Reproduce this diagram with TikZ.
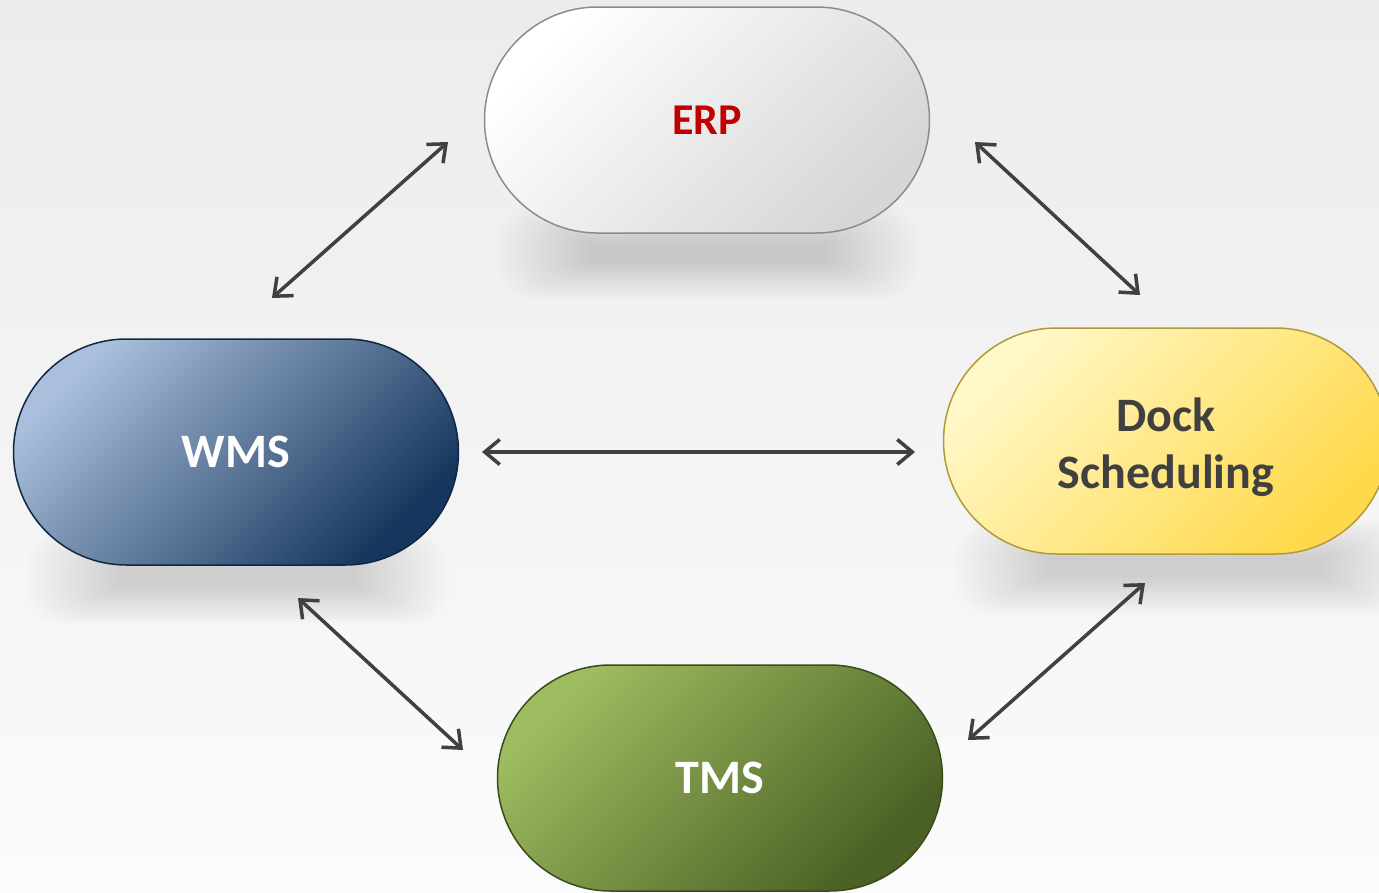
\documentclass[tikz,border=0pt]{standalone}
\usepackage{fontspec}
\setmainfont{Carlito}
\usetikzlibrary{shapes.misc,arrows.meta}
\definecolor{arr}{HTML}{404040}
\definecolor{erpred}{HTML}{C00000}
\definecolor{docktext}{HTML}{404040}
\definecolor{erpA}{HTML}{FFFFFF}
\definecolor{erpM}{HTML}{F0F0F0}
\definecolor{erpB}{HTML}{D6D6D6}
\definecolor{erpE}{HTML}{8C8C8C}
\definecolor{wmsA}{HTML}{A9BFDB}
\definecolor{wmsM}{HTML}{3F618E}
\definecolor{wmsB}{HTML}{17365D}
\definecolor{wmsE}{HTML}{0F2747}
\definecolor{dockA}{HTML}{FFF8C8}
\definecolor{dockM}{HTML}{FFEA85}
\definecolor{dockB}{HTML}{FFD94A}
\definecolor{dockE}{HTML}{B29A3C}
\definecolor{tmsA}{HTML}{9EBC60}
\definecolor{tmsM}{HTML}{6A8836}
\definecolor{tmsB}{HTML}{4A6024}
\definecolor{tmsE}{HTML}{3A4C1B}
\newcommand\softshadow[4]{%
  \foreach \k in {0,...,19}{%
    \pgfmathsetmacro\rc{max(40-2*\k,2)}%
    \fill[black,opacity=0.008,rounded corners=\rc pt]
      ({#1+\k*5},{#2+\k*2}) rectangle ({#3-\k*5},{#4-\k*2});}}
\tikzset{
  pill/.style={rounded rectangle, minimum width=445pt, minimum height=226pt,
    inner sep=0pt, align=center, line width=1.5pt,
    font=\bfseries\fontsize{48}{57}\selectfont},
  diag/.style={shading angle=45},
  link/.style={draw=arr, line width=3.5pt,
    {Straight Barb[length=15pt,width=25pt]}-{Straight Barb[length=15pt,width=25pt]}}
}
\begin{document}
\begin{tikzpicture}[x=1pt,y=-1pt]
\useasboundingbox (0,0) rectangle (1379,892);
\clip (0,0) rectangle (1379,892);
\shade[top color=gray!15, bottom color=gray!3] (0,0) rectangle (1379,892);
% shadows
\softshadow{495}{205}{920}{300}
\softshadow{25}{530}{450}{625}
\softshadow{953}{520}{1415}{615}
% nodes
\node[pill, draw=erpE, top color=erpA, middle color=erpM, bottom color=erpB, diag, text=erpred,
  font=\bfseries\fontsize{44}{57}\selectfont] (erp) at (707,120) {ERP};
\node[pill, draw=wmsE, top color=wmsA, middle color=wmsM, bottom color=wmsB, diag, text=white] (wms) at (236,452) {WMS};
\node[pill, draw=dockE, top color=dockA, middle color=dockM, bottom color=dockB, diag, text=docktext] (dock) at (1166,441)
  {\smash{\raisebox{-14pt}{\begin{tabular}{@{}c@{}}Dock\\Scheduling\end{tabular}}}};
\node[pill, draw=tmsE, top color=tmsA, middle color=tmsM, bottom color=tmsB, diag, text=white] (tms) at (720,778) {TMS};
% connector end points
\coordinate (e1) at (448,142);
\coordinate (w1) at (272,298);
\coordinate (e2) at (975,142);
\coordinate (d1) at (1140,295);
\coordinate (w2) at (482,452);
\coordinate (d2) at (915,452);
\coordinate (w3) at (298,598);
\coordinate (t1) at (463,750);
\coordinate (d3) at (1145,583);
\coordinate (t2) at (968,740);
\draw[link] (e1) -- (w1);
\draw[link] (e2) -- (d1);
\draw[link] (w2) -- (d2);
\draw[link] (w3) -- (t1);
\draw[link] (d3) -- (t2);
\end{tikzpicture}
\end{document}
